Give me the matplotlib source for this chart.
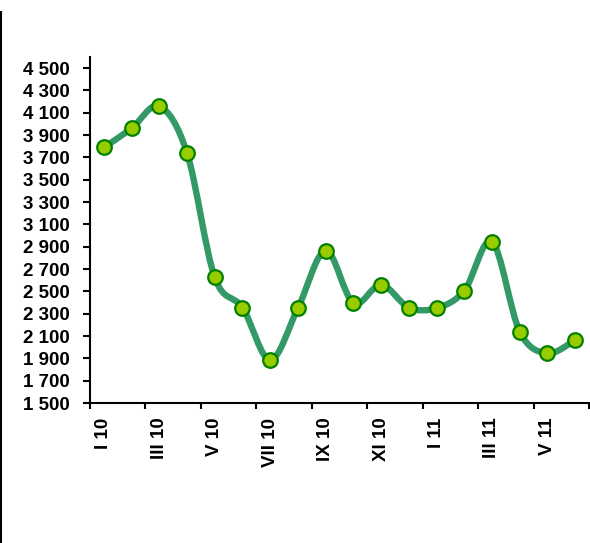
import matplotlib
matplotlib.use("Agg")
import matplotlib.pyplot as plt
from matplotlib.path import Path
from matplotlib.patches import PathPatch
from matplotlib.lines import Line2D

months = ["I 10", "II 10", "III 10", "IV 10", "V 10", "VI 10", "VII 10", "VIII 10",
          "IX 10", "X 10", "XI 10", "XII 10", "I 11", "II 11", "III 11", "IV 11",
          "V 11", "VI 11"]
values = [3790, 3960, 4160, 3740, 2625, 2355, 1885, 2350, 2865, 2395, 2560, 2355,
          2350, 2505, 2945, 2140, 1945, 2065]
yticks = [1500, 1700, 1900, 2100, 2300, 2500, 2700, 2900, 3100, 3300, 3500,
          3700, 3900, 4100, 4300, 4500]

plt.rcParams['font.family'] = ['Liberation Sans', 'DejaVu Sans']

fig = plt.figure(figsize=(5.9, 5.43), dpi=100)
ax = fig.add_axes([90/590, 140/543, 499/590, 346/543])

x = list(range(len(values)))

# Smooth (Excel-like) Bezier path through the points
verts = [(x[0], values[0])]
codes = [Path.MOVETO]
n = len(values)
for i in range(n - 1):
    p0 = (x[max(i - 1, 0)], values[max(i - 1, 0)])
    p1 = (x[i], values[i])
    p2 = (x[i + 1], values[i + 1])
    p3 = (x[min(i + 2, n - 1)], values[min(i + 2, n - 1)])
    c1 = (p1[0] + (p2[0] - p0[0]) / 6, p1[1] + (p2[1] - p0[1]) / 6)
    c2 = (p2[0] - (p3[0] - p1[0]) / 6, p2[1] - (p3[1] - p1[1]) / 6)
    verts += [c1, c2, p2]
    codes += [Path.CURVE4] * 3
ax.add_patch(PathPatch(Path(verts, codes), facecolor='none', edgecolor='#339966',
                       lw=4.6, capstyle='round', joinstyle='round', zorder=2))
ax.plot(x, values, linestyle='none', marker='o', markersize=10.5,
        markerfacecolor='#99CC00', markeredgecolor='#008000', markeredgewidth=1.6,
        zorder=3)

ax.set_xlim(-0.5, len(values) - 0.5)
ax.set_ylim(1500, 4600)
ax.set_yticks(yticks)
ax.set_yticklabels([f"{v:,}".replace(",", " ") for v in yticks],
                   fontsize=13.5, fontweight='bold')
ax.set_xticks([i - 0.5 for i in range(0, len(values) + 1, 2)])
ax.set_xticklabels([])
ax.set_xticks(list(range(0, len(values), 2)), minor=True)
ax.set_xticklabels(months[::2], minor=True, rotation=90, fontsize=13.5,
                   fontweight='bold', va='top', ha='center')
ax.tick_params(axis='x', which='major', length=4, width=1.5, direction='out')
ax.tick_params(axis='x', which='minor', length=0, pad=10.5)
ax.tick_params(axis='y', length=5, width=1.5, direction='out', pad=9.5)
for s in ['top', 'right']:
    ax.spines[s].set_visible(False)
for s in ['left', 'bottom']:
    ax.spines[s].set_linewidth(1.5)
    ax.spines[s].set_color('black')

fig.add_artist(Line2D([0.001, 0.001], [0, 1 - 12/543], color='black', lw=1.5,
                      transform=fig.transFigure))

fig.savefig("out.png", dpi=100)
